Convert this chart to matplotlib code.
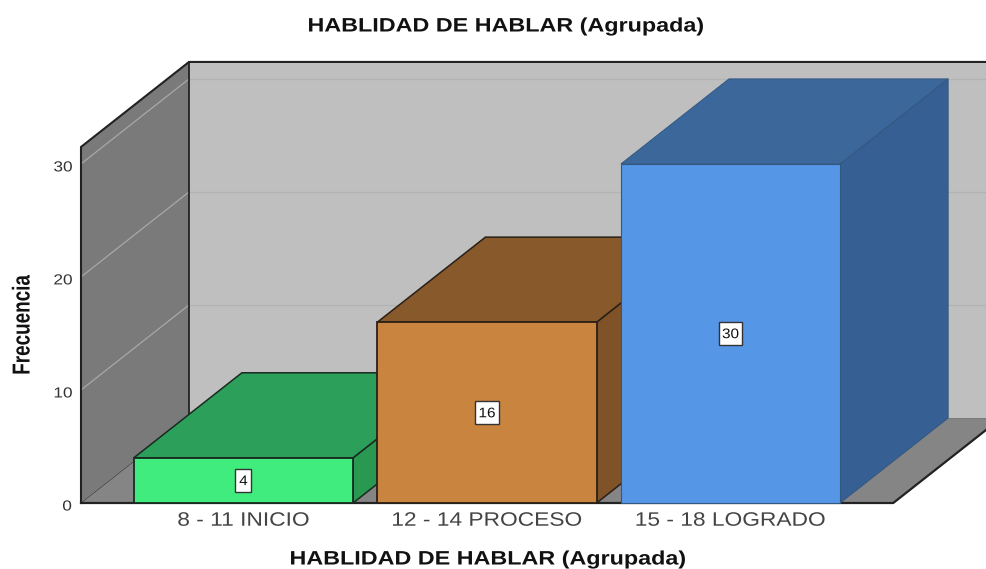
import matplotlib
matplotlib.use("Agg")
import matplotlib.pyplot as plt
from matplotlib.patches import Polygon
from matplotlib.patheffects import AbstractPathEffect
from matplotlib.transforms import Affine2D

plt.rcParams['font.family'] = ['Liberation Sans', 'DejaVu Sans']

categories = ['8 - 11 INICIO', '12 - 14 PROCESO', '15 - 18 LOGRADO']
values = [4, 16, 30]
yticks = [0, 10, 20, 30]
title = 'HABLIDAD DE HABLAR (Agrupada)'
ylabel = 'Frecuencia'

front_colors = ['#40EC7E', '#C9853F', '#5596E6']
top_colors = ['#2CA05A', '#87592B', '#3C679B']
side_colors = ['#299850', '#7F5228', '#365F94']
edge_colors = ['#1a2a20', '#2a2018', '#33577F']
edge_widths = [1.3, 1.3, 0.8]


class Stretch(AbstractPathEffect):
    """Widen drawn text about its own centre, keeping it a text artist."""

    def __init__(self, sx=1.0, dy=0.0):
        super().__init__()
        self.sx, self.dy = sx, dy

    def draw_path(self, renderer, gc, tpath, affine, rgbFace=None):
        ext = tpath.get_extents(affine)
        cx = (ext.x0 + ext.x1) / 2
        t = affine + Affine2D().translate(-cx, 0).scale(self.sx, 1).translate(cx, self.dy)
        renderer.draw_path(gc, tpath, t, rgbFace)


W, H = 987, 569
fig = plt.figure(figsize=(W / 100, H / 100), dpi=100, facecolor='white')
ax = fig.add_axes([81 / W, (H - 503) / H, (W - 81) / W, 503 / H])
ax.set_xlim(-0.667, 3.053)
ax.set_ylim(0, 44.5)
ax.patch.set_alpha(0)
for s in ax.spines.values():
    s.set_visible(False)

# 3-D projection settings, in data units
DX, DY = 0.4435, 7.52
x0, x1 = -0.667, 2.668
ytop = 31.5
bar_w = 0.9
dark = '#222222'


def poly(pts, fc, ec='none', lw=0.0, z=1):
    ax.add_patch(Polygon(pts, closed=True, facecolor=fc, edgecolor=ec,
                         linewidth=lw, zorder=z, clip_on=False,
                         joinstyle='miter'))


# back wall, floor, left wall
poly([(x0 + DX, DY), (x1 + DX, DY), (x1 + DX, ytop + DY), (x0 + DX, ytop + DY)], '#BFBFBF', z=1)
poly([(x0, 0), (x1, 0), (x1 + DX, DY), (x0 + DX, DY)], '#858585', z=1)
poly([(x0, 0), (x0 + DX, DY), (x0 + DX, ytop + DY), (x0, ytop)], '#7A7A7A', z=1)

# gridlines
for t in yticks:
    if t > 0:
        ax.plot([x0 + DX, x1 + DX], [t + DY, t + DY], color='#B3B3B3', lw=0.9, zorder=2, clip_on=False)
    ax.plot([x0, x0 + DX], [t, t + DY], color='#A8A8A8', lw=0.9, zorder=2, clip_on=False)
ax.plot([x0, x0 + DX], [0, DY], color='#444444', lw=0.7, zorder=2)

# frame
ax.plot([x0, x0, x0 + DX, x1 + DX], [0, ytop, ytop + DY, ytop + DY], color=dark, lw=1.5, zorder=3, clip_on=False, solid_joinstyle='miter')
ax.plot([x0 + DX, x0 + DX], [DY, ytop + DY], color=dark, lw=1.3, zorder=3, clip_on=False)
ax.plot([x0, x1, x1 + DX], [0, 0, DY], color=dark, lw=1.6, zorder=3, clip_on=False)
ax.plot([x0 + DX, x1 + DX], [DY, DY], color='#7a7a7a', lw=0.7, zorder=3, clip_on=False)

# bars
for i, (v, fc, tc, sc, ec, ew) in enumerate(zip(values, front_colors, top_colors, side_colors, edge_colors, edge_widths)):
    l, r = i - bar_w / 2, i + bar_w / 2
    z = 4 + i
    poly([(r, 0), (r + DX, DY), (r + DX, v + DY), (r, v)], sc, ec, ew * 0.85, z)
    poly([(l, v), (r, v), (r + DX, v + DY), (l + DX, v + DY)], tc, ec, ew * 0.85, z)
    ax.bar(i, v, width=bar_w, color=fc, edgecolor=ec, linewidth=ew, zorder=z + 0.1, clip_on=False)
    ax.text(i, v / 2, str(v), ha='center', va='center', fontsize=10, color='#111111', zorder=10,
            path_effects=[Stretch(1.1, -0.7)],
            bbox=dict(boxstyle='square,pad=0.3', facecolor='white', edgecolor='#333333', linewidth=1.0))

ax.set_xticks(range(len(categories)), categories)
ax.set_yticks(yticks)
ax.tick_params(axis='both', length=0)
ax.tick_params(axis='x', labelsize=14, labelcolor='#444444', pad=7)
ax.tick_params(axis='y', labelsize=10.5, labelcolor='#333333', pad=7)
for lab in ax.get_xticklabels():
    lab.set_path_effects([Stretch(1.17)])
for lab in ax.get_yticklabels():
    lab.set_path_effects([Stretch(1.18, -2)])

for ypx, xpx in [(27, 506), (560, 488)]:
    fig.text(xpx / W, 1 - ypx / H, title, ha='center', va='center', fontsize=14, fontweight='bold',
             color='#111111', path_effects=[Stretch(1.2)])
fig.text(23 / W, 1 - 325 / H, ylabel, ha='center', va='center', rotation=90, fontsize=13.6, fontweight='bold',
         color='#111111', path_effects=[Stretch(1.3)])

fig.savefig('out.png', dpi=100)
